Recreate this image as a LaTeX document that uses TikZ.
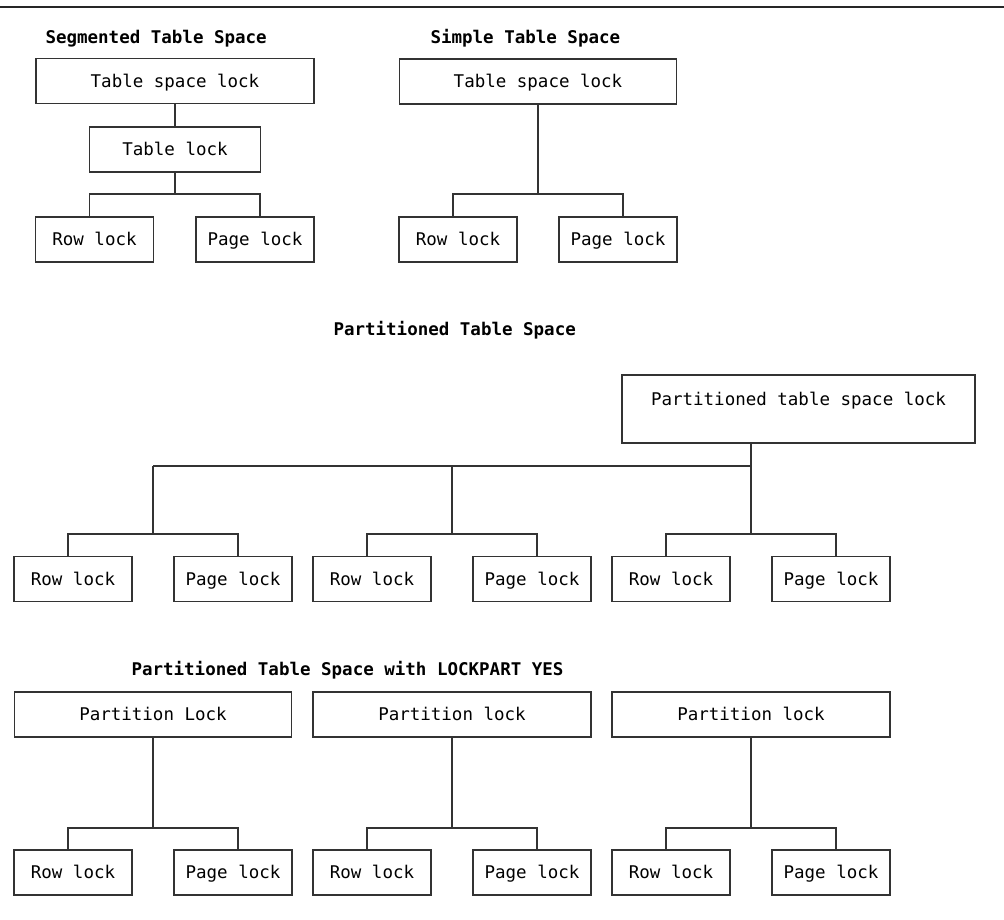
\documentclass[tikz,border=0pt]{standalone}
\usepackage{fontspec}
\setmonofont{DejaVu Sans Mono}

\begin{document}
\begin{tikzpicture}[
  x=1pt, y=-1pt,
  lk/.style={draw=black!80, line width=1.2pt, font=\ttfamily\fontsize{17.5}{21}\selectfont,
    text height=14pt, text depth=2pt, inner sep=0pt, minimum height=45pt, minimum width=#1},
  lk/.default=118pt,
  ttl/.style={anchor=base west, font=\ttfamily\bfseries\fontsize{17.5}{21}\selectfont},
  wire/.style={draw=black!80, line width=1.2pt}
]
\useasboundingbox (0,0) rectangle (1004,919);

% Rule at the top
\draw[black!85, line width=2pt] (0,7) -- (1004,7);

% Segmented table space
\node[ttl] (segT) at (42,43) {Segmented Table Space};
\node[lk=278pt] (segTs) at (175,81) {Table space lock};
\node[lk=171pt] (segTb) at (175,149.5) {Table lock};
\node[lk] (segRow) at (94.5,239.5) {Row lock};
\node[lk] (segPage) at (255,239.5) {Page lock};
\coordinate (segBr) at (175,194);
\draw[wire] (segTs) -- (segTb);
\draw[wire] (segTb) -- (segBr);
\draw[wire] ([xshift=-5pt]segRow.north) |- (segBr) -| ([xshift=5pt]segPage.north);

% Simple table space
\node[ttl] (simT) at (427,43) {Simple Table Space};
\node[lk=277pt] (simTs) at (538,81.5) {Table space lock};
\node[lk] (simRow) at (458,239.5) {Row lock};
\node[lk] (simPage) at (618,239.5) {Page lock};
\coordinate (simBr) at (538,194);
\draw[wire] (simTs) -- (simBr);
\draw[wire] ([xshift=-5pt]simRow.north) |- (simBr) -| ([xshift=5pt]simPage.north);

% Partitioned table space
\node[ttl] (parT) at (330,335) {Partitioned Table Space};
\node[lk=353pt, text height=30pt, text depth=38pt, minimum height=68pt] (parTs) at (798.5,409)
  {Partitioned table space lock};
\coordinate (parTop) at (751,466);
\node[lk] (pRow1) at (73,579) {Row lock};
\node[lk] (pPage1) at (233,579) {Page lock};
\node[lk] (pRow2) at (372,579) {Row lock};
\node[lk] (pPage2) at (532,579) {Page lock};
\node[lk] (pRow3) at (671,579) {Row lock};
\node[lk] (pPage3) at (831,579) {Page lock};
\coordinate (pBr1) at (153,534);
\coordinate (pBr2) at (452,534);
\coordinate (pBr3) at (751,534);
\draw[wire] (parTs.south -| parTop) -- (parTop);
\draw[wire] (parTop -| pBr1) -- (parTop);
\draw[wire] (parTop -| pBr1) -- (pBr1);
\draw[wire] (parTop -| pBr2) -- (pBr2);
\draw[wire] (parTop) -- (pBr3);
\draw[wire] ([xshift=-5pt]pRow1.north) |- (pBr1) -| ([xshift=5pt]pPage1.north);
\draw[wire] ([xshift=-5pt]pRow2.north) |- (pBr2) -| ([xshift=5pt]pPage2.north);
\draw[wire] ([xshift=-5pt]pRow3.north) |- (pBr3) -| ([xshift=5pt]pPage3.north);

% Partitioned table space with LOCKPART YES
\node[ttl] (lpT) at (128,675) {Partitioned Table Space with LOCKPART YES};
\node[lk=277pt] (lp1) at (153,714.5) {Partition Lock};
\node[lk=278pt] (lp2) at (452,714.5) {Partition lock};
\node[lk=278pt] (lp3) at (751,714.5) {Partition lock};
\node[lk] (lRow1) at (73,872.5) {Row lock};
\node[lk] (lPage1) at (233,872.5) {Page lock};
\node[lk] (lRow2) at (372,872.5) {Row lock};
\node[lk] (lPage2) at (532,872.5) {Page lock};
\node[lk] (lRow3) at (671,872.5) {Row lock};
\node[lk] (lPage3) at (831,872.5) {Page lock};
\coordinate (lBr1) at (153,828);
\coordinate (lBr2) at (452,828);
\coordinate (lBr3) at (751,828);
\draw[wire] (lp1) -- (lBr1);
\draw[wire] (lp2) -- (lBr2);
\draw[wire] (lp3) -- (lBr3);
\draw[wire] ([xshift=-5pt]lRow1.north) |- (lBr1) -| ([xshift=5pt]lPage1.north);
\draw[wire] ([xshift=-5pt]lRow2.north) |- (lBr2) -| ([xshift=5pt]lPage2.north);
\draw[wire] ([xshift=-5pt]lRow3.north) |- (lBr3) -| ([xshift=5pt]lPage3.north);

\end{tikzpicture}
\end{document}
